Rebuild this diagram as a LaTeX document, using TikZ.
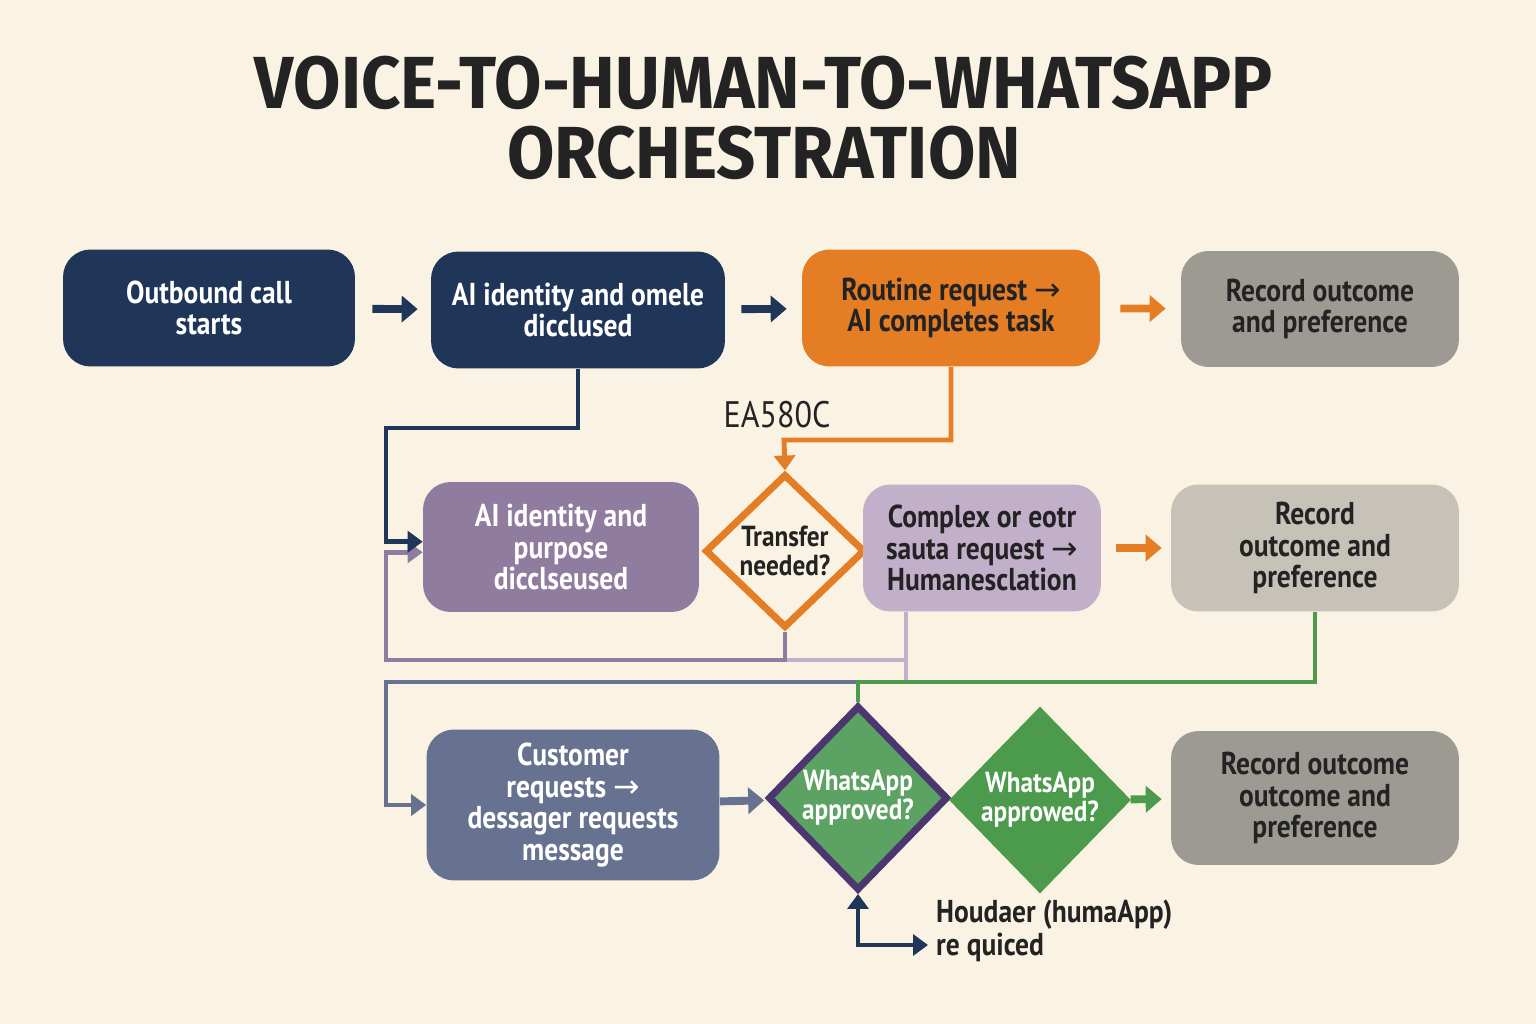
\documentclass[tikz,border=0pt]{standalone}
\usepackage{fontspec}
\setmainfont{PT Sans}[FakeStretch=0.87]
\newfontfamily\titlefont{Fira Sans}[FakeStretch=0.93]
\newfontfamily\arrowfont{DejaVu Sans}
\newcommand{\toarrow}{{\arrowfont\mdseries →}}
\usetikzlibrary{arrows.meta,shapes.geometric}

\definecolor{navy}{HTML}{1F3659}
\definecolor{orng}{HTML}{E47D24}
\definecolor{gry}{HTML}{9C9A93}
\definecolor{purp}{HTML}{8F7C9F}
\definecolor{lpurp}{HTML}{C2AFCA}
\definecolor{lgry}{HTML}{C6C2B8}
\definecolor{slate}{HTML}{66728F}
\definecolor{grn}{HTML}{5CA262}
\definecolor{dgrn}{HTML}{4C9A4B}
\definecolor{dpurp}{HTML}{4B3670}
\definecolor{cream}{HTML}{FAF3E4}
\definecolor{ink}{HTML}{232323}

\begin{document}
\begin{tikzpicture}[x=0.02cm,y=-0.02cm,
   box/.style={rounded corners=0.55cm,align=center,inner sep=2pt,
      font=\bfseries\fontsize{18}{18}\selectfont},
   dia/.style={diamond,aspect=1,align=center,inner sep=0pt,
      font=\bfseries\fontsize{16.5}{16.5}\selectfont},
   fat/.style={line width=4.5pt,-{Triangle[length=0.32cm,width=0.52cm]}},
   link/.style={line width=2.8pt,-{Triangle[length=0.3cm,width=0.42cm]}}]
   \fill[cream] (0,0) rectangle (1536,1024);

   \node[text=ink,align=center,font=\titlefont\bfseries\fontsize{42}{40}\selectfont] (t0) at (764,118) {VOICE-TO-HUMAN-TO-WHATSAPP\\ORCHESTRATION};

   \node[box,fill=navy,text=white,minimum width=5.84cm,minimum height=2.34cm] (a1) at (209,308) {Outbound call\\starts};
   \node[box,fill=navy,text=white,minimum width=5.88cm,minimum height=2.34cm] (a2) at (578,310) {AI identity and omele\\dicclused};
   \node[box,fill=orng,text=ink,minimum width=5.96cm,minimum height=2.34cm] (a3) at (951,308) {Routine request \toarrow\\AI completes task};
   \node[box,fill=gry,text=ink,minimum width=5.56cm,minimum height=2.32cm] (a4) at (1320,309) {Record outcome\\and preference};

   \node[box,fill=purp,text=white,minimum width=5.52cm,minimum height=2.6cm] (b1) at (561,547) {AI identity and\\purpose\\dicclseused};
   \node[dia,draw=orng,line width=4pt,fill=cream,text=ink,minimum width=3.2cm,minimum height=3.08cm] (b2) at (785,551) {Transfer\\needed?};
   \node[box,fill=lpurp,text=ink,minimum width=4.76cm,minimum height=2.54cm] (b3) at (982,548) {Complex or eotr\\sauta request \toarrow\\Humanesclation};
   \node[box,fill=lgry,text=ink,minimum width=5.76cm,minimum height=2.54cm] (b4) at (1315,548) {Record\\outcome and\\preference};

   \node[box,fill=slate,text=white,minimum width=5.86cm,minimum height=3.02cm] (c1) at (573,805) {Customer\\requests \toarrow\\dessager requests\\message};
   \node[dia,draw=dpurp,line width=4pt,fill=grn,text=white,minimum width=3.6cm,minimum height=3.7cm] (c2) at (858,798) {WhatsApp\\approved?};
   \node[dia,fill=dgrn,text=white,minimum width=3.64cm,minimum height=3.74cm] (c3) at (1040,800) {WhatsApp\\approwed?};
   \node[box,fill=gry,text=ink,minimum width=5.76cm,minimum height=2.68cm] (c4) at (1315,798) {Record outcome\\outcome and\\preference};

   \node[text=ink,font=\fontsize{21}{21}\selectfont] (t1) at (777,415) {EA580C};
   \node[text=ink,anchor=north west,align=left,font=\bfseries\fontsize{18}{18.5}\selectfont] (t2) at (930,894) {Houdaer (humaApp)\\re quiced};

   \coordinate (k1) at (386,428);
   \coordinate (k2) at (784,440);
   \coordinate (k3) at (386,660);
   \coordinate (k4) at (906,682);
   \coordinate (k5) at (858,682);
   \coordinate (k6) at (386,682);
   \coordinate (k8) at (928,945);

   \path (a1) edge[fat,navy,shorten <=0.34cm,shorten >=0.26cm] (a2);
   \path (a2) edge[fat,navy,shorten <=0.32cm,shorten >=0.3cm] (a3);
   \path (a3) edge[fat,orng,shorten <=0.4cm,shorten >=0.3cm] (a4);
   \path (b3) edge[fat,orng,shorten <=0.3cm,shorten >=0.18cm] (b4);
   \path (c1) edge[fat,slate,shorten >=0.05cm] (c2);
   \path (c3) edge[fat,dgrn,shorten >=0.18cm] (c4);

   \draw[link,lpurp,-] (b3.south -| k4) -- (k4);
   \draw[link,lpurp,-] (k4 |- k3) -- (b2.south |- k3);
   \draw[link,purp] (b2.south) |- (k3) |- ([yshift=-3pt]b1.west);
   \draw[link,navy] (a2.south) |- (k1) |- ([yshift=3pt]b1.west);
   \draw[link,orng] (a3.south) |- (k2) -- (b2.north);
   \draw[link,slate] (k5) -- (k6) |- (c1.west);
   \draw[link,dgrn,-] (b4.south) |- (k5) -- (c2.north);
   \draw[link,navy,{Triangle[length=0.3cm,width=0.42cm]}-{Triangle[length=0.3cm,width=0.42cm]}] (c2.south) |- (k8);
\end{tikzpicture}
\end{document}
